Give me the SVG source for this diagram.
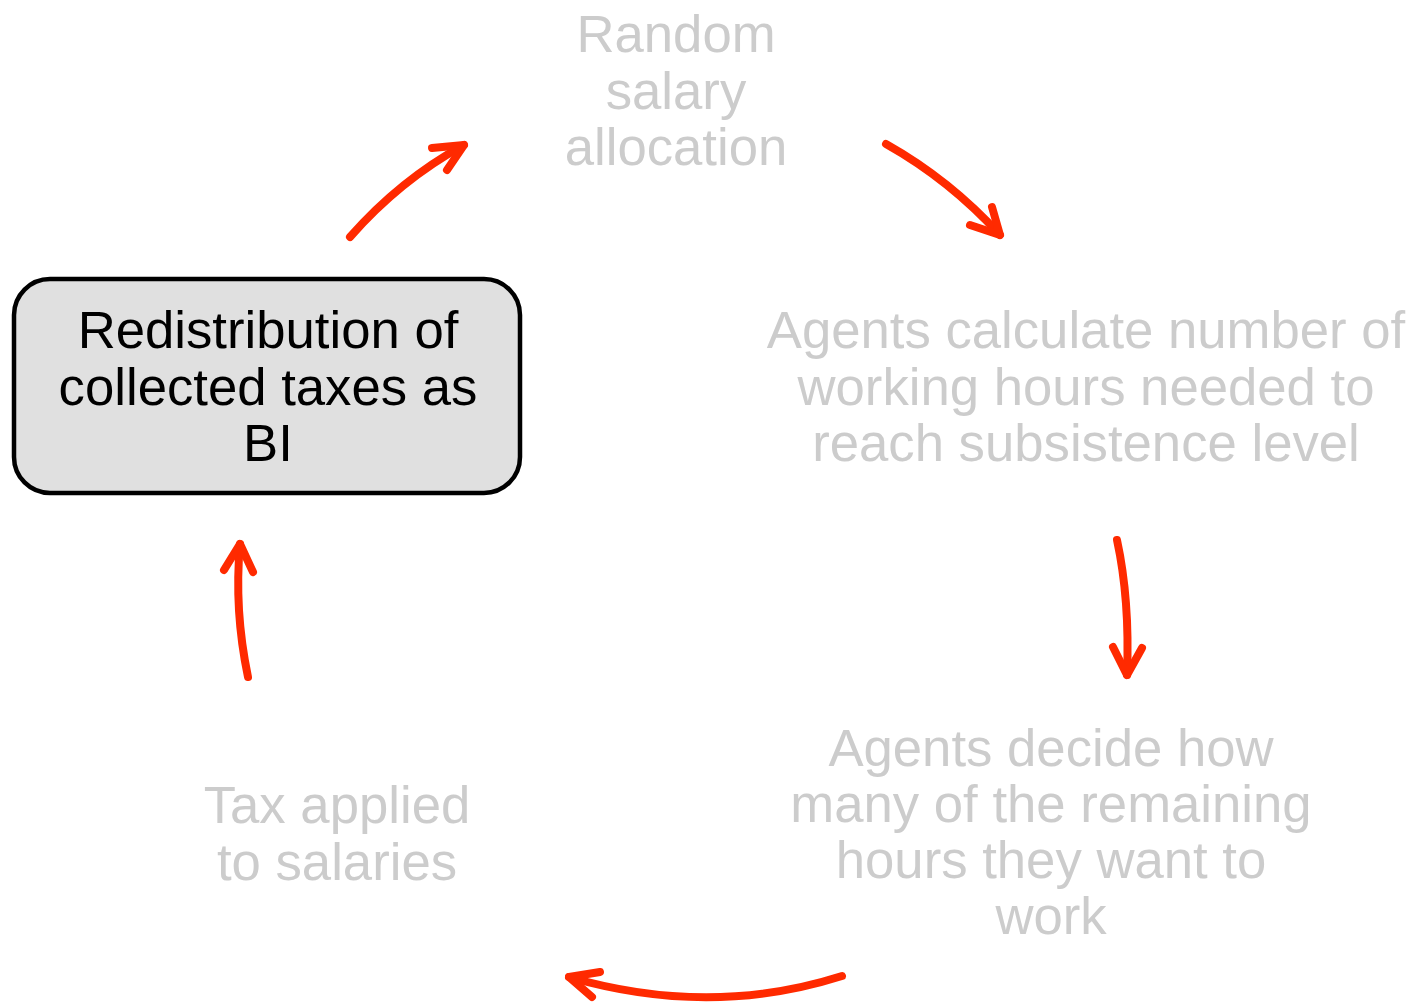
<svg xmlns="http://www.w3.org/2000/svg" width="1414" height="1003" viewBox="0 0 1414 1003">
<style>
.t{font-family:"Liberation Sans",Arial,sans-serif;font-size:52.7px;text-anchor:middle}
.g{fill:#cccccc}
.k{fill:#000000}
.a{fill:none;stroke:#ff2a00;stroke-width:8;stroke-linecap:round;stroke-linejoin:round}
</style>
<rect width="1414" height="1003" fill="#ffffff"/>
<g id="node-random">
<text class="t g" x="676" y="52">Random</text>
<text class="t g" x="676" y="109">salary</text>
<text class="t g" x="676" y="165">allocation</text>
</g>
<g id="node-calculate">
<text class="t g" x="1086" y="348">Agents calculate number of</text>
<text class="t g" x="1086" y="405">working hours needed to</text>
<text class="t g" x="1086" y="461">reach subsistence level</text>
</g>
<g id="node-decide">
<text class="t g" x="1051" y="766">Agents decide how</text>
<text class="t g" x="1051" y="822">many of the remaining</text>
<text class="t g" x="1051" y="878">hours they want to</text>
<text class="t g" x="1051" y="934">work</text>
</g>
<g id="node-tax">
<text class="t g" x="337" y="823">Tax applied</text>
<text class="t g" x="337" y="880">to salaries</text>
</g>
<g id="node-redistribution">
<rect x="14" y="279" width="506" height="214" rx="36" ry="36" fill="#e0e0e0" stroke="#000000" stroke-width="4.5"/>
<text class="t k" x="268" y="348">Redistribution of</text>
<text class="t k" x="268" y="405">collected taxes as</text>
<text class="t k" x="268" y="461">BI</text>
</g>
<g id="connectors">
<path class="a" d="M350,237 Q400,180 464,145"/>
<path class="a" d="M432,148 L464,145 L447,170"/>
<path class="a" d="M886,144 Q950,180 1000,235"/>
<path class="a" d="M970,225 L1000,235 L992,207"/>
<path class="a" d="M1117,540 Q1130,600 1127,675"/>
<path class="a" d="M1113,647 L1127,675 L1142,648"/>
<path class="a" d="M842,976 Q710,1018 569,977"/>
<path class="a" d="M600,972 L569,977 L592,997"/>
<path class="a" d="M248,677 Q234,610 240,544"/>
<path class="a" d="M224,570 L240,544 L253,572"/>
</g>
</svg>
